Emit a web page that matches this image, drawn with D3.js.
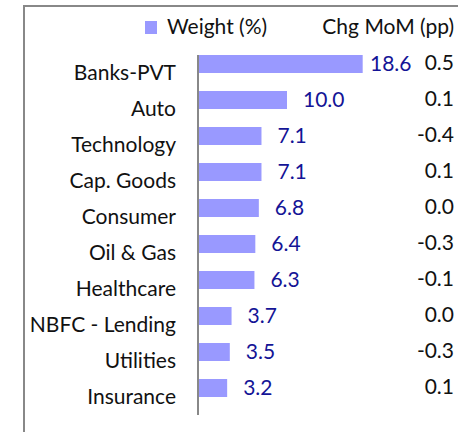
<!DOCTYPE html>
<html>
<head>
<meta charset="utf-8">
<script src="https://cdn.jsdelivr.net/npm/d3@7"></script>
<style>
  body { margin: 0; background: #fff; }
  svg { display: block; }
  text { font-family: Lato, "Open Sans", sans-serif; }
</style>
</head>
<body>
<svg id="chart"></svg>
<script>
// sector weights and month-on-month change
const sectors = ["Banks-PVT", "Auto", "Technology", "Cap. Goods", "Consumer",
                 "Oil & Gas", "Healthcare", "NBFC - Lending", "Utilities", "Insurance"];
const weights = [18.6, 10.0, 7.1, 7.1, 6.8, 6.4, 6.3, 3.7, 3.5, 3.2];
const chgMoM  = ["0.5", "0.1", "-0.4", "0.1", "0.0", "-0.3", "-0.1", "0.0", "-0.3", "0.1"];

const w = 458, h = 432;
const fontSize = 21;

const rows = sectors.map((s, i) => ({ sector: s, weight: weights[i], chg: chgMoM[i] }));

const svg = d3.select("#chart").attr("width", w).attr("height", h);

// outer frame (only top and left edges are visible in the crop)
svg.append("path")
    .attr("d", `M24,${h} L24,6 L${w},6`)
    .attr("fill", "none")
    .attr("stroke", "#888")
    .attr("stroke-width", 2);

const xScale = d3.scaleLinear()
    .domain([0, 20])
    .range([199, 375]);

const yScale = d3.scaleBand()
    .domain(sectors)
    .range([55, 415])
    .paddingInner(0.5)
    .paddingOuter(0.25)
    .align(0);

const chart = svg.append("g");

chart.append("g")
    .selectAll("rect")
    .data(rows)
    .join("rect")
        .attr("x", xScale(0))
        .attr("y", d => yScale(d.sector))
        .attr("width", d => xScale(d.weight) - xScale(0))
        .attr("height", yScale.bandwidth())
        .attr("fill", "#9999ff");

// y axis line, no ticks
svg.append("line")
    .attr("x1", 198).attr("x2", 198)
    .attr("y1", 55).attr("y2", 415)
    .attr("stroke", "#888")
    .attr("stroke-width", 2);

// category labels sit a little low, like the original
chart.append("g")
    .selectAll("text")
    .data(rows)
    .join("text")
        .attr("x", 176)
        .attr("y", d => yScale(d.sector) + yScale.bandwidth())
        .attr("dy", "0.35em")
        .attr("text-anchor", "end")
        .style("font-size", fontSize + "px")
        .attr("fill", "#111")
        .text(d => d.sector);

// weight labels - pulled back so the long one doesn't hit the change column
chart.append("g")
    .selectAll("text")
    .data(rows)
    .join("text")
        .attr("x", d => Math.min(xScale(d.weight) + 16, 370))
        .attr("y", d => yScale(d.sector) + yScale.bandwidth() / 2)
        .attr("dy", "0.35em")
        .style("font-size", fontSize + "px")
        .attr("fill", "#141496")
        .text(d => d3.format(".1f")(d.weight));

// change column
chart.append("g")
    .selectAll("text")
    .data(rows)
    .join("text")
        .attr("x", 454)
        .attr("y", d => yScale(d.sector) + yScale.bandwidth() / 2 - 1)
        .attr("dy", "0.35em")
        .attr("text-anchor", "end")
        .style("font-size", fontSize + "px")
        .attr("fill", "#111")
        .text(d => d.chg);

// legend + column header
svg.append("rect")
    .attr("x", 145).attr("y", 21)
    .attr("width", 12).attr("height", 13)
    .attr("fill", "#9999ff");

svg.append("text")
    .attr("x", 167).attr("y", 27)
    .attr("dy", "0.35em")
    .style("font-size", fontSize + "px")
    .attr("fill", "#111")
    .text("Weight (%)");

svg.append("text")
    .attr("x", 454).attr("y", 27)
    .attr("dy", "0.35em")
    .attr("text-anchor", "end")
    .style("font-size", fontSize + "px")
    .attr("fill", "#111")
    .text("Chg MoM (pp)");
</script>
</body>
</html>
